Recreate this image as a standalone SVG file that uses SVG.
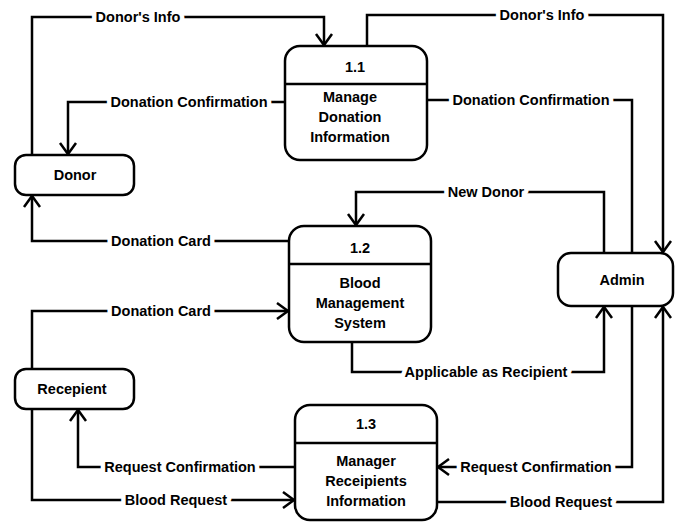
<svg xmlns="http://www.w3.org/2000/svg" width="676" height="522" viewBox="0 0 676 522">
<defs>
<marker id="arr" markerUnits="userSpaceOnUse" markerWidth="24" markerHeight="24" viewBox="-14 -12 18 24" refX="0" refY="0" orient="auto" overflow="visible">
<path d="M-11,-8 L0,0 L-11,8" fill="none" stroke="#000" stroke-width="2.5" stroke-linejoin="miter"/>
</marker>
</defs>
<style>
.box{fill:#fff;stroke:#000;stroke-width:2.5}
.div{stroke:#000;stroke-width:2.5}
.t{font-family:"Liberation Sans",Arial,sans-serif;font-weight:bold;font-size:14.5px;fill:#000;text-anchor:middle}
.c{fill:none;stroke:#000;stroke-width:2.5}
.ca{fill:none;stroke:#000;stroke-width:2.5;marker-end:url(#arr)}
.lbl{font-family:"Liberation Sans",Arial,sans-serif;font-weight:bold;font-size:14.5px;fill:#000;text-anchor:middle;stroke:#fff;stroke-width:9;paint-order:stroke;stroke-linejoin:round}
</style>
<rect width="676" height="522" fill="#fff"/>
<g id="connectors">
<path class="ca" d="M32,155 V17 H324 V45"/>
<path class="ca" d="M367,46 V15 H663 V252"/>
<path class="ca" d="M285,102 H68 V154"/>
<path class="c" d="M427,100 H632 V253"/>
<path class="ca" d="M604,253 V192 H356 V225"/>
<path class="ca" d="M289,241 H32 V196"/>
<path class="ca" d="M32,369 V311 H288"/>
<path class="ca" d="M352,342 V372 H604 V307"/>
<path class="ca" d="M295,467 H78 V410"/>
<path class="ca" d="M32,409 V500 H294"/>
<path class="ca" d="M632,306 V467 H438"/>
<path class="ca" d="M437,502 H663 V307"/>
<text class="lbl" x="138" y="22">Donor's Info</text>
<text class="lbl" x="542" y="20">Donor's Info</text>
<text class="lbl" x="189" y="107">Donation Confirmation</text>
<text class="lbl" x="531" y="105">Donation Confirmation</text>
<text class="lbl" x="486" y="197">New Donor</text>
<text class="lbl" x="161" y="246">Donation Card</text>
<text class="lbl" x="161" y="316">Donation Card</text>
<text class="lbl" x="486" y="377">Applicable as Recipient</text>
<text class="lbl" x="180" y="472">Request Confirmation</text>
<text class="lbl" x="176" y="505">Blood Request</text>
<text class="lbl" x="536" y="472">Request Confirmation</text>
<text class="lbl" x="561" y="507">Blood Request</text>
</g>
<g id="p11">
<rect class="box" x="285" y="46" width="142" height="114" rx="15"/>
<line class="div" x1="285" y1="84" x2="427" y2="84"/>
<text class="t" x="355" y="72">1.1</text>
<text class="t" x="350" y="102">Manage</text>
<text class="t" x="350" y="122">Donation</text>
<text class="t" x="350" y="142">Information</text>
</g>
<g id="p12">
<rect class="box" x="289" y="226" width="142" height="116" rx="15"/>
<line class="div" x1="289" y1="264" x2="431" y2="264"/>
<text class="t" x="360" y="253">1.2</text>
<text class="t" x="360" y="288">Blood</text>
<text class="t" x="360" y="308">Management</text>
<text class="t" x="360" y="328">System</text>
</g>
<g id="p13">
<rect class="box" x="295" y="405" width="142" height="115" rx="15"/>
<line class="div" x1="295" y1="443" x2="437" y2="443"/>
<text class="t" x="366" y="429">1.3</text>
<text class="t" x="366" y="466">Manager</text>
<text class="t" x="366" y="486">Receipients</text>
<text class="t" x="366" y="506">Information</text>
</g>
<g id="donor">
<rect class="box" x="15" y="155" width="119" height="40" rx="11"/>
<text class="t" x="75" y="180">Donor</text>
</g>
<g id="recepient">
<rect class="box" x="15" y="369" width="119" height="40" rx="11"/>
<text class="t" x="72" y="394">Recepient</text>
</g>
<g id="admin">
<rect class="box" x="558" y="253" width="115" height="53" rx="13"/>
<text class="t" x="622" y="285">Admin</text>
</g>
</svg>
